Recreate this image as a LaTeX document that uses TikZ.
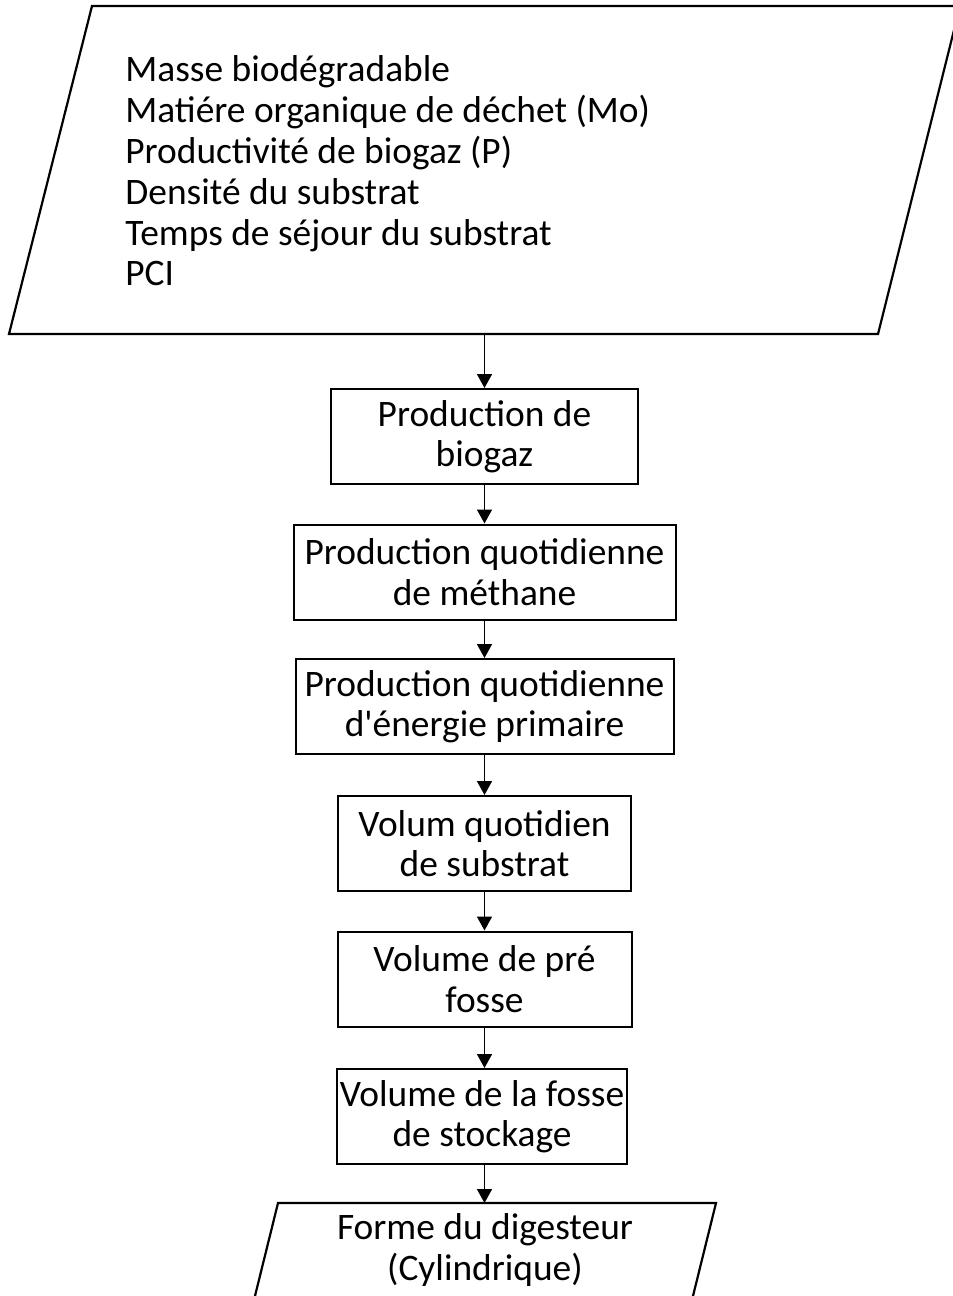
\documentclass[tikz,border=0pt]{standalone}
\usepackage{fontspec}
\setmainfont{Carlito}
\usetikzlibrary{arrows.meta,positioning}

\tikzset{
    etape/.style={draw, line width=1pt, align=center, inner sep=0pt,
        minimum height=47.5pt, font=\fontsize{18.7}{20.2}\selectfont},
    fleche/.style={-{Triangle[length=7pt, width=7.5pt]}, line width=0.8pt},
    cadre/.style={line width=1.1pt, line join=miter}
}

\begin{document}
\begin{tikzpicture}[x=0.5pt, y=-0.5pt]
    \clip (0,0) rectangle (953,1296);
    \useasboundingbox (0,0) rectangle (953,1296);
    % Donnees d'entree
    \draw [cadre] (92,6) -- (960,6) -- (878,334) -- (9,334) -- cycle;
    \node (donnees) [anchor=west, align=left, inner sep=0pt,
        font=\fontsize{18.7}{20.4}\selectfont] at (125,171)
        {Masse biodégradable\\
         Matiére organique de déchet (Mo)\\
         Productivité de biogaz (P)\\
         Densité du substrat\\
         Temps de séjour du substrat\\
         PCI};
    \coordinate (donnees-bas) at (484.5,334);

    % Etapes de calcul
    \node (biogaz)   [etape, minimum width=153.5pt] at (484.5,436.5) {Production de\\biogaz};
    \node (methane)  [etape, minimum width=191pt]   at (484.5,572)   {Production quotidienne\\de méthane};
    \node (energie)  [etape, minimum width=189pt]   at (484.5,706.5) {Production quotidienne\\d\textquotesingle énergie primaire};
    \node (substrat) [etape, minimum width=146.5pt] at (484.5,843.5) {Volum quotidien\\de substrat};
    \node (prefosse) [etape, minimum width=147pt]   at (484.5,979)   {Volume de pré\\fosse};
    \node (stockage) [etape, minimum width=145pt]   at (482,1116.5)  {Volume de la fosse\\de stockage};

    % Sortie
    \draw [cadre] (278,1203) -- (716,1203) -- (692,1300) -- (254,1300) -- cycle;
    \node (forme) [align=center, inner sep=0pt,
        font=\fontsize{18.7}{20.2}\selectfont] at (485,1250)
        {Forme du digesteur\\(Cylindrique)};
    \coordinate (forme-haut) at (484.5,1203);

    % Liaisons
    \draw [fleche] (donnees-bas) -- (biogaz);
    \draw [fleche] (biogaz) -- (methane);
    \draw [fleche] (methane) -- (energie);
    \draw [fleche] (energie) -- (substrat);
    \draw [fleche] (substrat) -- (prefosse);
    \draw [fleche] (prefosse.south) -- (prefosse.south |- stockage.north);
    \draw [fleche] (stockage.south -| forme-haut) -- (forme-haut);
\end{tikzpicture}
\end{document}
